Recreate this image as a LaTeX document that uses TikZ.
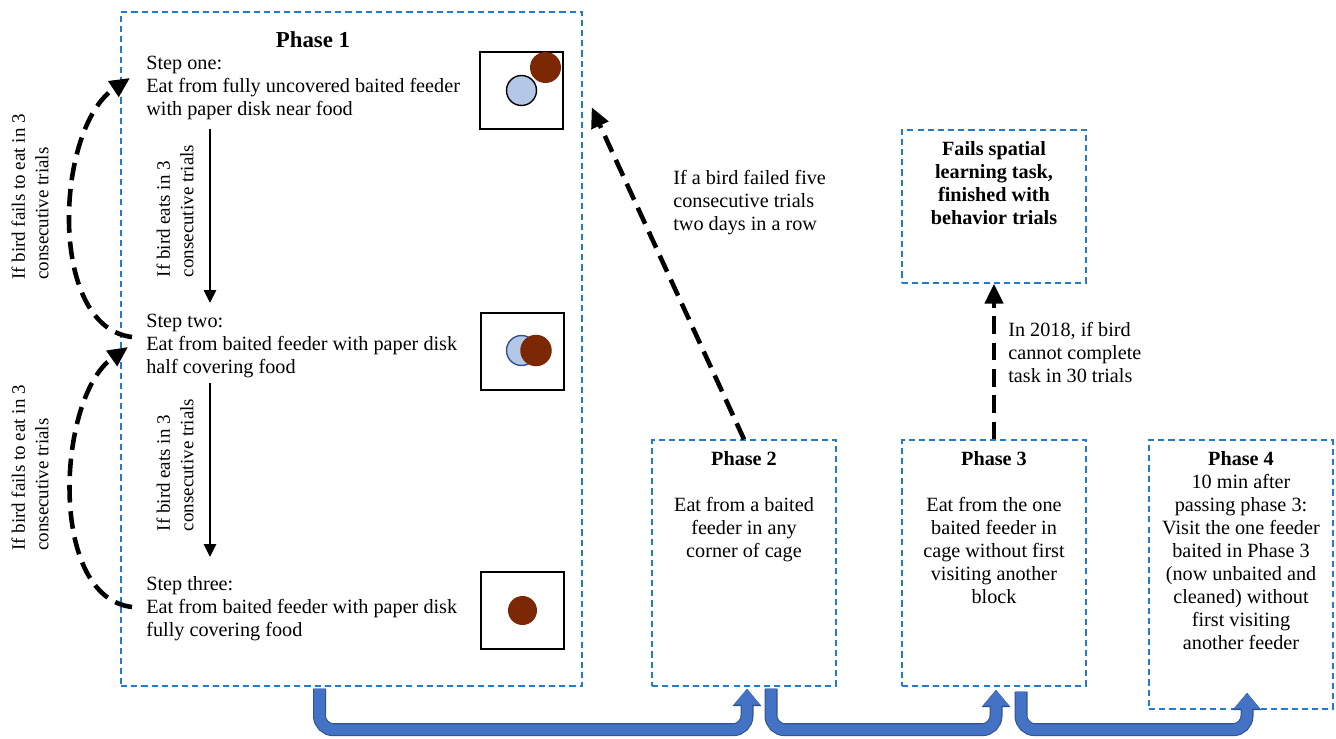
\documentclass[tikz,border=0pt]{standalone}
\usepackage{fontspec}
\setmainfont{Liberation Serif}
\usetikzlibrary{arrows.meta,positioning,calc,fit}
\definecolor{frame}{RGB}{32,124,210}
\definecolor{food}{RGB}{124,40,4}
\definecolor{disk}{RGB}{180,199,231}
\definecolor{diskedge}{RGB}{47,82,143}
\definecolor{flow}{RGB}{68,114,196}
\definecolor{flowedge}{RGB}{47,82,143}

\begin{document}
\begin{tikzpicture}[x=0.02cm, y=-0.02cm,
    phase/.style={draw=frame, line width=0.8pt, dash pattern=on 3.5pt off 2.3pt, inner sep=0pt},
    feeder/.style={draw=black, line width=1.1pt, minimum width=1.66cm, minimum height=1.54cm, inner sep=0pt},
    txt/.style={font=\fontsize{11.5}{13.1}\selectfont, inner sep=0pt},
    boldtxt/.style={font=\fontsize{11.5}{13.1}\selectfont\bfseries, inner sep=0pt, align=center},
    side/.style={font=\fontsize{10.8}{13.3}\selectfont, inner sep=0pt, align=left, rotate=90},
    arr/.style={-{Triangle[length=0.26cm, width=0.24cm]}, line width=1.7pt, black},
    darr/.style={-{Triangle[length=0.4cm, width=0.36cm]}, line width=2.6pt, black, dash pattern=on 10pt off 5pt},
    flowarr/.style={-{Triangle[length=0.32cm, width=0.5cm]}, line width=6.2pt, flow, rounded corners=0.28cm,
        preaction={draw=flowedge, line width=7.4pt, -{Triangle[length=0.35cm, width=0.56cm]}}},
]
\useasboundingbox (0,0) rectangle (1336,738);

% Boxes
\node[phase, fit={(121,12) (582,686)}] (p1) {};
\node[phase, fit={(652,440) (836,686)}] (p2) {};
\node[phase, fit={(902,440) (1086,686)}] (p3) {};
\node[phase, fit={(1149,440) (1333,709)}] (p4) {};
\node[phase, fit={(902,130) (1086,283)}] (fails) {};

% Phase 1 steps
\node[boldtxt, font=\fontsize{13}{15}\selectfont\bfseries] (t1) at (313,40) {Phase 1};
\node[txt, align=left, anchor=north west] (s1) at (146,56) {Step one:\\Eat from fully uncovered baited feeder\\with paper disk near food};
\node[txt, align=left, anchor=north west] (s2) at (146,314) {Step two:\\Eat from baited feeder with paper disk\\half covering food};
\node[txt, align=left, anchor=north west] (s3) at (146,576) {Step three:\\Eat from baited feeder with paper disk\\fully covering food};

% Feeders
\node[feeder] (f1) at (521.5,90.5) {};
\node[feeder] (f2) at (522.5,351.5) {};
\node[feeder] (f3) at (522.5,610.5) {};
\filldraw[fill=disk, draw=black, line width=0.8pt] (f1.center) circle[radius=0.3cm];
\fill[food] ($(f1.center)+(24,-23)$) circle[radius=0.31cm];
\filldraw[fill=disk, draw=diskedge, line width=0.8pt] ($(f2.center)+(-1,-1)$) circle[radius=0.3cm];
\fill[food] ($(f2.center)+(13.5,-1)$) circle[radius=0.315cm];
\fill[food] (f3.center) circle[radius=0.29cm];

% Other phases
\node[txt, align=center, anchor=north] (t2) at (744,451) {\textbf{Phase 2}\\[13.1pt]Eat from a baited\\feeder in any\\corner of cage};
\node[txt, align=center, anchor=north] (t3) at (994,451) {\textbf{Phase 3}\\[13.1pt]Eat from the one\\baited feeder in\\cage without first\\visiting another\\block};
\node[txt, align=center, anchor=north] (t4) at (1241,451) {\textbf{Phase 4}\\10 min after\\passing phase 3:\\Visit the one feeder\\baited in Phase 3\\(now unbaited and\\cleaned) without\\first visiting\\another feeder};
\node[boldtxt, anchor=north] (t5) at (994,141) {Fails spatial\\learning task,\\finished with\\behavior trials};

% Arrows
\draw[arr] ($(s1.south west)+(64,9)$) -- ($(s2.north west)+(64,-11)$);
\draw[arr] ($(s2.south west)+(64,5)$) -- ($(s3.north west)+(64,-19)$);
\draw[darr] ($(s2.north west)+(-14,23)$) .. controls +(-85,-10) and +(-75,50) .. ($(s1.north west)+(-16,22)$);
\draw[darr] ($(s3.north west)+(-14,31)$) .. controls +(-85,-10) and +(-71,50) .. ($(s2.north west)+(-18,33)$);
\draw[darr] (p2.north) -- ($(p1.north east)+(9,96)$);
\draw[darr] (p3.north) -- (fails.south);
\draw[flowarr] ($(p1.south)+(-32,2)$) |- ($(p2.south)+(3,43)$) -- ($(p2.south)+(3,2)$);
\draw[flowarr] ($(p2.south)+(27,2)$) |- ($(p3.south)+(2,43)$) -- ($(p3.south)+(2,3)$);
\draw[flowarr] ($(p3.south)+(27,5)$) |- ($(p4.south)+(6,20)$) -- ($(p4.south)+(6,-17)$);

% Labels
\node[side] (r1) at (30,197) {If bird fails to eat in 3\\consecutive trials};
\node[side] (r2) at (30,468) {If bird fails to eat in 3\\consecutive trials};
\node[side] (m1) at (175,211) {If bird eats in 3\\consecutive trials};
\node[side] (m2) at (175,465) {If bird eats in 3\\consecutive trials};
\node[txt, align=left, anchor=north west] (l1) at (673,170) {If a bird failed five\\consecutive trials\\two days in a row};
\node[txt, align=left, anchor=north west] (l2) at (1008,322) {In 2018, if bird\\cannot complete\\task in 30 trials};
\end{tikzpicture}
\end{document}
